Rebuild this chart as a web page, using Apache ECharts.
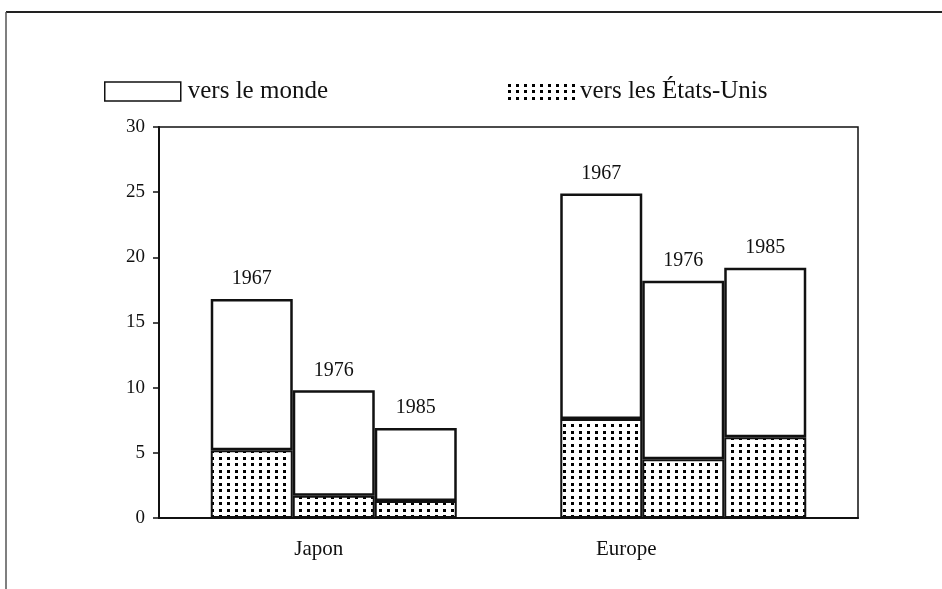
<!DOCTYPE html>
<html>
<head>
<meta charset="utf-8">
<script src="https://cdn.jsdelivr.net/npm/echarts@6/dist/echarts.min.js"></script>
<style>
  html, body { margin: 0; padding: 0; background: #fff; }
  #chart { width: 942px; height: 589px; }
</style>
</head>
<body>
<div id="chart"></div>
<script>
// categories and years
var categories = ['Japon', 'Europe'];
var years = ['1967', '1976', '1985'];

// total exports (vers le monde), per year, [Japon, Europe]
var monde1967 = [16.8, 24.9];
var monde1976 = [9.8, 18.2];
var monde1985 = [6.9, 19.2];

// part going to the USA, per year, [Japon, Europe]
var us1967 = [5.2, 7.6];
var us1976 = [1.7, 4.5];
var us1985 = [1.3, 6.2];

var yTicks = [0, 5, 10, 15, 20, 25, 30];

var mondeByYear = [monde1967, monde1976, monde1985];
var usByYear = [us1967, us1976, us1985];

// dotted fill
function dotPattern() {
  var c = document.createElement('canvas');
  c.width = 8; c.height = 13;
  var ctx = c.getContext('2d');
  ctx.fillStyle = '#fff';
  ctx.fillRect(0, 0, 8, 13);
  ctx.fillStyle = '#000';
  ctx.fillRect(3, 2, 3, 3);
  ctx.fillRect(3, 8, 3, 3);
  return { image: c, repeat: 'repeat' };
}
var dots = dotPattern();

var font = 'Liberation Serif';
var series = [];
years.forEach(function (yr, i) {
  series.push({
    name: 'vers les États-Unis',
    type: 'bar',
    stack: 's' + yr,
    barWidth: 82,
    barGap: '0%',
    itemStyle: { color: dots, borderColor: '#111', borderWidth: 2 },
    data: usByYear[i]
  });
  series.push({
    name: 'vers le monde',
    type: 'bar',
    stack: 's' + yr,
    barWidth: 82,
    barGap: '0%',
    itemStyle: { color: '#fff', borderColor: '#111', borderWidth: 2.5 },
    label: {
      show: true,
      position: 'top',
      distance: 10,
      formatter: yr,
      color: '#111',
      fontFamily: font,
      fontSize: 20
    },
    data: mondeByYear[i].map(function (v, k) { return +(v - usByYear[i][k]).toFixed(2); })
  });
});

var chart = echarts.init(document.getElementById('chart'));
chart.setOption({
  backgroundColor: '#fff',
  animation: false,
  textStyle: { fontFamily: font },
  legend: [{
    data: [{ name: 'vers le monde', icon: 'rect' }],
    left: 99, top: 74,
    itemWidth: 76, itemHeight: 19,
    selectedMode: false,
    itemStyle: { borderWidth: 1.5 },
    textStyle: { fontFamily: font, fontSize: 25, color: '#111', padding: [0, 0, 0, 2] }
  }, {
    data: [{ name: 'vers les États-Unis', icon: 'rect' }],
    left: 500, top: 74,
    itemWidth: 70, itemHeight: 19,
    selectedMode: false,
    itemStyle: { borderWidth: 0 },
    textStyle: { fontFamily: font, fontSize: 25, color: '#111' }
  }],
  grid: {
    left: 159, right: 84, top: 127, bottom: 71,
    show: true,
    borderColor: '#111',
    borderWidth: 1.5
  },
  xAxis: {
    type: 'category',
    data: [
      { value: categories[0], textStyle: { padding: [0, 30, 0, 0] } },
      { value: categories[1], textStyle: { padding: [0, 114, 0, 0] } }
    ],
    axisLine: { lineStyle: { color: '#111', width: 2 } },
    axisTick: { show: false },
    axisLabel: { color: '#111', fontFamily: font, fontSize: 21, margin: 21 }
  },
  yAxis: {
    type: 'value',
    min: yTicks[0],
    max: yTicks[yTicks.length - 1],
    interval: 5,
    splitLine: { show: false },
    axisLine: { show: true, lineStyle: { color: '#111', width: 2 } },
    axisTick: { show: true, length: 6, lineStyle: { color: '#111', width: 1.5 } },
    axisLabel: { color: '#111', fontFamily: font, fontSize: 19, margin: 14 }
  },
  graphic: [
    { type: 'line', shape: { x1: 6, y1: 12, x2: 942, y2: 12 }, style: { stroke: '#222', lineWidth: 2 } },
    { type: 'line', shape: { x1: 6, y1: 12, x2: 6, y2: 589 }, style: { stroke: '#555', lineWidth: 1.5 } }
  ],
  series: series
});
</script>
</body>
</html>
